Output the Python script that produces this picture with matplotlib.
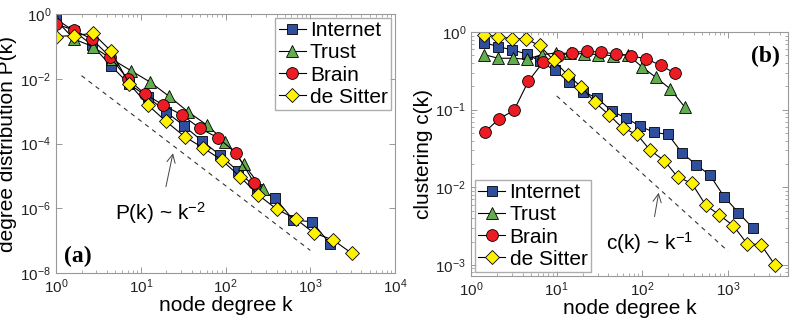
import numpy as np
import matplotlib
matplotlib.use('Agg')
import matplotlib.pyplot as plt
from matplotlib.ticker import LogLocator, NullFormatter, NullLocator

plt.rcParams['font.family'] = ['Liberation Sans', 'DejaVu Sans']
plt.rcParams['mathtext.fontset'] = 'custom'
plt.rcParams['mathtext.rm'] = 'Liberation Sans'
plt.rcParams['mathtext.it'] = 'Liberation Sans:italic'

# (a) degree distribution P(k)
k_int_a = [1.0, 1.63, 2.66, 4.46, 7.27, 12.2, 19.9, 32.4, 52.8, 86, 140, 235, 384, 626, 1050, 1710]
p_int_a = [0.70, 0.30, 0.11, 0.025, 6.9e-3, 2.7e-3, 9.5e-4, 3.5e-4, 1.2e-4, 4.4e-5, 1.4e-5, 4.0e-6, 2.1e-6, 4.4e-7, 3.8e-7, 8e-8]
k_tru_a = [1.0, 1.63, 2.73, 4.58, 7.67, 12.9, 21.5, 36.1, 60.5, 98.6, 165, 277]
p_tru_a = [0.65, 0.169, 0.098, 0.040, 0.0178, 7.9e-3, 2.9e-3, 9.6e-4, 3.7e-4, 1.15e-4, 2.25e-5, 3.8e-6]
k_bra_a = [1.0, 1.63, 2.66, 4.33, 7.06, 11.2, 18.3, 30.6, 49.9, 81.5, 133, 217]
p_bra_a = [0.49, 0.32, 0.166, 0.048, 9.6e-3, 3.4e-3, 1.55e-3, 7.6e-4, 2.95e-4, 1.5e-4, 5.2e-5, 6.2e-6]
k_des_a = [1.0, 1.63, 2.73, 4.45, 7.35, 12.2, 19.9, 33.3, 54.6, 90, 148, 243, 403, 674, 1110, 1850, 3070]
p_des_a = [0.202, 0.217, 0.254, 0.072, 6.9e-3, 1.53e-3, 4.8e-4, 1.6e-4, 7.3e-5, 3.1e-5, 9.5e-6, 2.6e-6, 9.3e-7, 4.7e-7, 1.7e-7, 1.06e-7, 4.1e-8]

# (b) clustering c(k)
k_int_b = [1.43, 2.08, 3.03, 4.47, 6.38, 9.42, 13.9, 20.4, 29.9, 43.8, 64.4, 92.5, 137, 199, 290, 422, 615, 896, 1322, 1937]
c_int_b = [0.73, 0.647, 0.587, 0.521, 0.42, 0.321, 0.229, 0.17, 0.140, 0.096, 0.078, 0.0617, 0.0509, 0.048, 0.0277, 0.0196, 0.0143, 7.6e-3, 4.7e-3, 3.0e-3]
k_tru_b = [1.43, 2.08, 3.05, 4.47, 6.68, 9.82, 14.3, 20.8, 30.3, 45.4, 67.9, 98.1, 144, 210, 312]
c_tru_b = [0.51, 0.459, 0.459, 0.447, 0.51, 0.537, 0.529, 0.524, 0.513, 0.495, 0.51, 0.357, 0.26, 0.186, 0.108]
k_bra_b = [1.46, 2.14, 3.17, 4.66, 6.92, 10.3, 15.2, 22.6, 33.3, 49.2, 73.0, 110, 163, 240]
c_bra_b = [0.052, 0.0766, 0.0977, 0.232, 0.408, 0.491, 0.542, 0.569, 0.545, 0.526, 0.494, 0.452, 0.373, 0.294]
k_des_b = [1.43, 2.08, 3.01, 4.38, 6.33, 9.23, 13.4, 19.4, 28.0, 40.8, 58.6, 86.5, 123, 180, 258, 376, 548, 789, 1150, 1670, 2420, 3520]
c_des_b = [0.92, 0.87, 0.82, 0.81, 0.67, 0.43, 0.28, 0.196, 0.124, 0.0855, 0.058, 0.048, 0.030, 0.0221, 0.0135, 0.0113, 5.9e-3, 4.4e-3, 3.2e-3, 1.87e-3, 1.82e-3, 1.0e-3]

# reference power laws
k_ref_a = [2, 1000]
k_ref_b = [10, 1000]

names = ['Internet', 'Trust', 'Brain', 'de Sitter']
colors = ['#2F4E9B', '#63AD4E', '#EC1C24', '#FFF200']
markers = ['s', '^', 'o', 'D']
msizes = [7, 8.5, 8.5, 7]

fig = plt.figure(figsize=(7.91, 3.19), dpi=100)
ax1 = fig.add_axes([0.0708, 0.1442, 0.4286, 0.8118])
ax2 = fig.add_axes([0.5955, 0.1348, 0.4007, 0.7649])

data_a = [(k_int_a, p_int_a), (k_tru_a, p_tru_a), (k_bra_a, p_bra_a), (k_des_a, p_des_a)]
data_b = [(k_int_b, c_int_b), (k_tru_b, c_tru_b), (k_bra_b, c_bra_b), (k_des_b, c_des_b)]

for ax, data in [(ax1, data_a), (ax2, data_b)]:
    for (kk, yy), nm, col, mk, ms in zip(data, names, colors, markers, msizes):
        ax.plot(kk, yy, '-', color='black', lw=0.8, marker=mk, markersize=ms,
                markerfacecolor=col, markeredgecolor='black', markeredgewidth=0.6, label=nm)
    ax.set_xscale('log')
    ax.set_yscale('log')

kr = np.array(k_ref_a, dtype=float)
ax1.plot(kr, 0.05 * kr ** -2.0, '--', color='#333333', lw=0.8, dashes=(4, 4))
kr = np.array(k_ref_b, dtype=float)
ax2.plot(kr, 1.5 * kr ** -1.0, '--', color='#333333', lw=0.8, dashes=(4, 4))

ax1.set_xlim(1, 1e4)
ax1.set_ylim(1e-8, 1)
ax1.set_yticks([1e0, 1e-2, 1e-4, 1e-6, 1e-8])
ax1.yaxis.set_minor_locator(NullLocator())
ax2.set_xlim(1, 5000)
ax2.set_ylim(7.2e-4, 1)
ax2.set_xticks([1e0, 1e1, 1e2, 1e3])
ax2.set_yticks([1e0, 1e-1, 1e-2, 1e-3])

for ax in (ax1, ax2):
    ax.xaxis.set_minor_locator(LogLocator(base=10, subs=np.arange(2, 10)))
    ax.xaxis.set_minor_formatter(NullFormatter())
    ax.tick_params(which='both', direction='in', top=True, right=True, colors='#888888',
                   labelcolor='#222222', labelsize=11)
    ax.tick_params(which='major', length=4, width=0.6)
    ax.tick_params(which='minor', length=2, width=0.5)
    for s in ax.spines.values():
        s.set_color('#999999')
        s.set_linewidth(0.8)
    ax.set_xlabel('node degree k', fontsize=15, labelpad=0)
ax2.yaxis.set_minor_locator(LogLocator(base=10, subs=np.arange(2, 10)))
ax2.yaxis.set_minor_formatter(NullFormatter())

ax1.set_ylabel('degree distribution P(k)', fontsize=15, labelpad=2)
ax2.set_ylabel('clustering c(k)', fontsize=15, labelpad=2)

leg1 = ax1.legend(loc='upper right', fontsize=15, handlelength=1.3, handletextpad=0.2,
                  borderpad=0.15, labelspacing=0.15, borderaxespad=0.2, fancybox=False)
leg1.get_frame().set_edgecolor('#999999')
leg1.get_frame().set_linewidth(1.0)
leg2 = ax2.legend(loc='lower left', fontsize=15, handlelength=1.3, handletextpad=0.2,
                  borderpad=0.15, labelspacing=0.15, borderaxespad=0.2, fancybox=False)
leg2.get_frame().set_edgecolor('#999999')
leg2.get_frame().set_linewidth(1.0)

ax1.annotate('P(k) ~ k$^{-2}$', xy=(24, 5e-5), xytext=(17, 7e-7), fontsize=15,
             ha='center', va='center',
             arrowprops=dict(arrowstyle='->', color='#444444', lw=0.7, shrinkA=8, shrinkB=0))
ax2.annotate('c(k) ~ k$^{-1}$', xy=(155, 8.5e-3), xytext=(122, 1.9e-3), fontsize=15,
             ha='center', va='center',
             arrowprops=dict(arrowstyle='->', color='#444444', lw=0.7, shrinkA=8, shrinkB=0))

ax1.text(0.025, 0.065, '(a)', transform=ax1.transAxes, fontsize=17, fontweight='bold',
         family='Liberation Serif', ha='left', va='center')
ax2.text(0.975, 0.90, '(b)', transform=ax2.transAxes, fontsize=17, fontweight='bold',
         family='Liberation Serif', ha='right', va='center')

fig.savefig('out.png', dpi=100)
